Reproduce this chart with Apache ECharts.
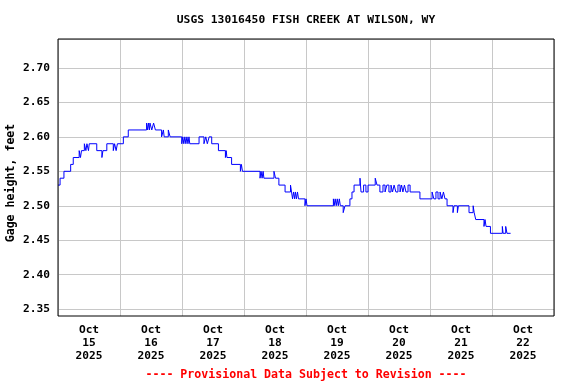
<!DOCTYPE html>
<html>
<head>
<meta charset="utf-8">
<script src="https://cdn.jsdelivr.net/npm/echarts@6/dist/echarts.min.js"></script>
<style>html,body{margin:0;padding:0;background:#fff}#c{width:576px;height:384px}</style>
</head>
<body>
<div id="c"></div>
<script>
// Hours since Oct 15 2025 00:00 where the gage height changes, and the new value
var hours = [0.0,0.8,2.3,4.9,5.9,8.2,8.7,9.1,10.2,10.8,11.2,11.8,12.1,15.0,17.0,17.4,18.9,21.4,21.9,22.5,23.0,25.3,27.2,
  34.3,34.7,35.0,35.4,35.6,36.3,37.0,37.7,40.1,40.8,41.1,42.7,43.4,
  47.9,48.3,48.7,49.1,49.5,49.9,50.3,50.7,51.0,54.6,56.5,57.2,57.8,58.5,59.5,62.1,64.8,65.1,65.4,67.2,70.6,71.0,71.4,
  78.2,78.6,79.0,79.4,79.7,83.6,84.2,85.5,87.9,90.0,90.4,90.8,91.2,91.6,91.9,92.3,92.7,93.1,95.6,96.0,96.4,
  106.6,106.9,107.3,107.7,108.1,108.5,108.9,109.3,110.4,111.1,113.0,113.8,114.6,116.9,117.3,118.3,119.2,120.0,
  122.8,123.5,124.6,125.8,126.6,127.3,128.1,128.9,129.5,130.1,130.8,131.6,132.4,133.0,133.5,134.1,134.7,135.5,136.3,
  140.1,144.8,145.5,146.3,147.1,147.9,148.6,149.2,149.8,150.6,152.9,153.3,154.6,155.0,159.1,160.7,161.1,161.7,
  164.9,165.3,165.7,167.4,172.0,172.3,173.3,173.8,175.2];
var heights = [2.53,2.54,2.55,2.56,2.57,2.58,2.57,2.58,2.59,2.58,2.59,2.58,2.59,2.58,2.57,2.58,2.59,2.58,2.59,2.58,2.59,2.60,2.61,
  2.62,2.61,2.62,2.61,2.62,2.61,2.62,2.61,2.60,2.61,2.60,2.61,2.60,
  2.59,2.60,2.59,2.60,2.59,2.60,2.59,2.60,2.59,2.60,2.59,2.60,2.59,2.60,2.59,2.58,2.57,2.58,2.57,2.56,2.55,2.56,2.55,
  2.54,2.55,2.54,2.55,2.54,2.55,2.54,2.53,2.52,2.53,2.52,2.51,2.52,2.51,2.52,2.51,2.52,2.51,2.50,2.51,2.50,
  2.51,2.50,2.51,2.50,2.51,2.50,2.51,2.50,2.49,2.50,2.51,2.52,2.53,2.54,2.52,2.53,2.52,2.53,
  2.54,2.53,2.52,2.53,2.52,2.53,2.52,2.53,2.52,2.53,2.52,2.53,2.52,2.53,2.52,2.53,2.52,2.53,2.52,
  2.51,2.52,2.51,2.52,2.51,2.52,2.51,2.52,2.51,2.50,2.49,2.50,2.49,2.50,2.49,2.50,2.49,2.48,
  2.47,2.48,2.47,2.46,2.47,2.46,2.47,2.46,2.46];
var dayLabels = ['Oct\n15\n2025','Oct\n16\n2025','Oct\n17\n2025','Oct\n18\n2025','Oct\n19\n2025','Oct\n20\n2025','Oct\n21\n2025','Oct\n22\n2025'];
var titleText = 'USGS 13016450 FISH CREEK AT WILSON, WY';
var footerText = '---- Provisional Data Subject to Revision ----';
var yName = 'Gage height, feet';

var FONT = 'DejaVu Sans Mono';
var data = hours.map(function (h, i) { return [h, heights[i]]; });
var chart = echarts.init(document.getElementById('c'), null, {renderer: 'canvas'});
chart.setOption({
  animation: false,
  backgroundColor: '#fff',
  grid: {left: 58, top: 39, right: 22, bottom: 68, containLabel: false, outerBoundsMode: 'none',
         show: true, borderColor: '#000', borderWidth: 1, backgroundColor: 'transparent', z: 5},
  graphic: [
    {type: 'text', x: 306, y: 20, z: 10, style: {text: titleText, font: 'bold 11.3px "DejaVu Sans Mono"', fill: '#000', align: 'center', verticalAlign: 'middle'}},
    {type: 'text', x: 306, y: 375, z: 10, style: {text: footerText, font: 'bold 11.6px "DejaVu Sans Mono"', fill: '#ff0000', align: 'center', verticalAlign: 'middle'}}
  ],
  xAxis: [
    {type: 'value', min: 0, max: 192, interval: 24,
     axisLine: {show: false}, axisTick: {show: false}, axisLabel: {show: false},
     splitLine: {show: true, lineStyle: {color: '#c8c8c8', width: 1}}},
    {type: 'category', data: dayLabels, boundaryGap: true, position: 'bottom',
     axisLine: {show: false}, axisTick: {show: false}, splitLine: {show: false},
     axisLabel: {interval: 0, margin: 8, color: '#000', fontFamily: FONT, fontWeight: 'bold', fontSize: 11.2, lineHeight: 13}}
  ],
  yAxis: {
    type: 'value', min: 2.34, max: 2.742, interval: 0.01,
    name: yName, nameLocation: 'middle', nameGap: 41, nameMoveOverlap: false,
    nameTextStyle: {color: '#000', fontFamily: FONT, fontWeight: 'bold', fontSize: 11.6, padding: [0, 11, 0, 0]},
    axisLine: {show: false}, axisTick: {show: false},
    axisLabel: {margin: 8, color: '#000', fontFamily: FONT, fontWeight: 'bold', fontSize: 11.2,
      formatter: function (v) { var k = Math.round(v * 100); return (k % 5 === 0 && Math.abs(v * 100 - k) < 0.01) ? v.toFixed(2) : ''; }},
    splitLine: {show: true, lineStyle: {width: 1, color: ['rgba(0,0,0,0)', '#c8c8c8', 'rgba(0,0,0,0)', 'rgba(0,0,0,0)', 'rgba(0,0,0,0)']}}
  },
  series: [{
    type: 'line', xAxisIndex: 0, data: data, step: 'end', symbol: 'none',
    lineStyle: {color: '#0000ff', width: 1}, z: 3
  }]
});
</script>
</body>
</html>
